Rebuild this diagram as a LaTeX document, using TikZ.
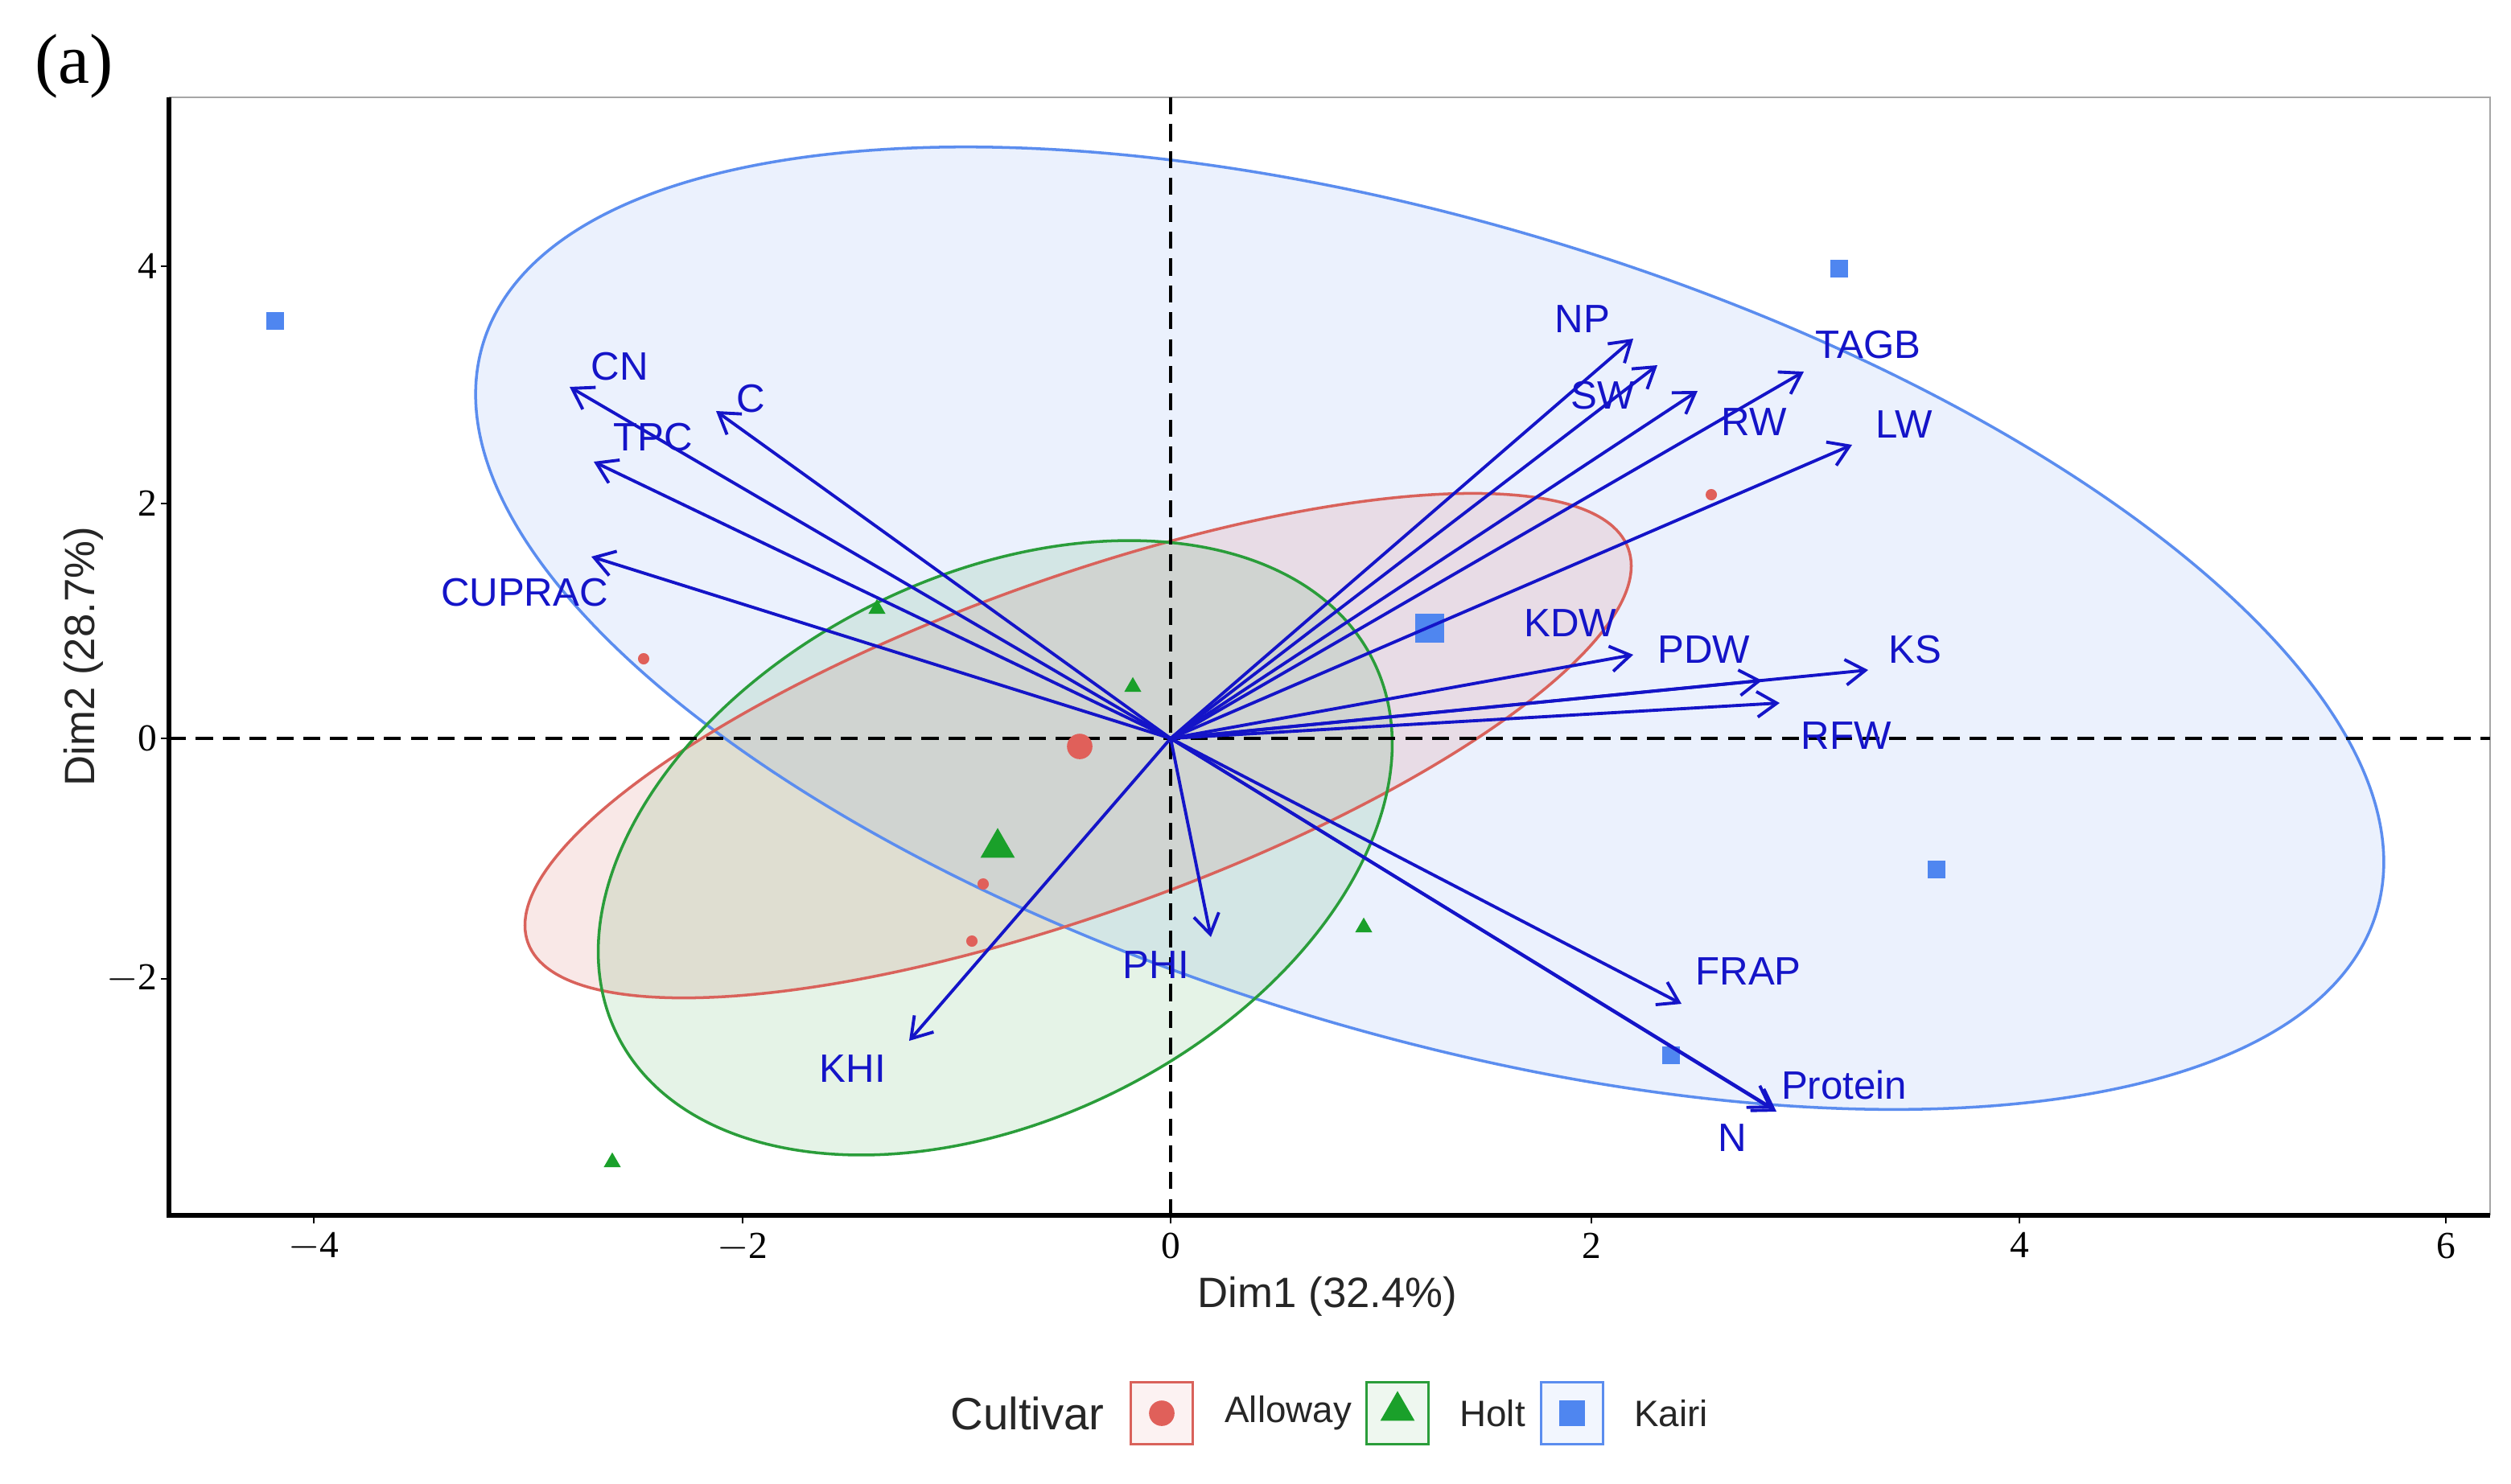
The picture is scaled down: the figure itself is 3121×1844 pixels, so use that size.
\documentclass[tikz,border=0pt]{standalone}
\usepackage{fontspec}
\setmainfont{Liberation Sans}
\newfontfamily\serifnum{Liberation Serif}
\usetikzlibrary{arrows.meta,shapes.geometric}
\definecolor{kblue}{HTML}{5B8DEF}
\definecolor{kred}{HTML}{D9625B}
\definecolor{kgreen}{HTML}{2A9D3A}
\definecolor{vblue}{HTML}{1414C8}
\definecolor{ptred}{HTML}{E0605A}
\definecolor{ptgreen}{HTML}{1AA02A}
\definecolor{ptblue}{HTML}{4F86F0}
\begin{document}
\begin{tikzpicture}[x=0.01cm,y=-0.01cm,
  vec/.style={vblue,line width=1.1pt,-{Straight Barb[length=7pt,width=9pt,line width=1.1pt]}},
  lab/.style={text=vblue,font=\fontsize{14}{16}\selectfont,inner sep=0pt},
  tick/.style={font=\serifnum\fontsize{13.5}{15}\selectfont,inner sep=0pt},
  sq/.style={fill=ptblue,draw=none,minimum size=6pt,inner sep=0pt,rectangle},
  cir/.style={fill=ptred,draw=none,circle,minimum size=4pt,inner sep=0pt},
  tri/.style={fill=ptgreen,draw=none,regular polygon,regular polygon sides=3,minimum size=7pt,inner sep=0pt},
  zero/.style={black,line width=1.2pt,dash pattern=on 6pt off 3.5pt},
  legbox/.style={minimum size=0.77cm,inner sep=0pt,line width=1pt}]
\useasboundingbox (0,0) rectangle (3121,1844);
\fill[white] (0,0) rectangle (3121,1844);
% panel
\draw[gray!70,line width=0.8pt] (210,121) -- (3095,121) -- (3095,1511);
% ellipses fills
\fill[kblue,fill opacity=0.12] (1777,781) ellipse[x radius=12.28cm,y radius=5.04cm,rotate=-16.7];
\fill[kred,fill opacity=0.14] (1340,927) ellipse[x radius=7.26cm,y radius=2.08cm,rotate=19.7];
\fill[kgreen,fill opacity=0.12] (1237,1054) ellipse[x radius=5.24cm,y radius=3.38cm,rotate=26.3];
\draw[kblue,line width=1pt] (1777,781) ellipse[x radius=12.28cm,y radius=5.04cm,rotate=-16.7];
\draw[kred,line width=1pt] (1340,927) ellipse[x radius=7.26cm,y radius=2.08cm,rotate=19.7];
\draw[kgreen,line width=1pt] (1237,1054) ellipse[x radius=5.24cm,y radius=3.38cm,rotate=26.3];
% zero lines
\draw[zero] (1455,121) -- (1455,1511);
\draw[zero] (210,918) -- (3095,918);
% axes
\draw[black,line width=1.5pt] (210,121) -- (210,1511) -- (3095,1511);
\foreach \yy/\t in {331/4,626/2,918/0,1217/{$-$2}} {
  \draw[line width=0.8pt] (200,\yy) -- (210,\yy);
  \node[tick,anchor=east] at (196,\yy) {\t};
}
\foreach \xx/\t in {390/{$-$4},923/{$-$2},1455/0,1978/2,2510/4,3040/6} {
  \draw[line width=0.8pt] (\xx,1511) -- (\xx,1521);
  \node[tick,anchor=north] at (\xx,1532) {\t};
}
\node[font=\fontsize{15}{17}\selectfont,text=black!85] (xl) at (1650,1612) {Dim1 (32.4\%)};
\node[font=\fontsize{15}{17}\selectfont,text=black!85,rotate=90] (yl) at (104,816) {Dim2 (28.7\%)};
\node[font=\serifnum\fontsize{25}{28}\selectfont] (pa) at (92,82) {(a)};
% individuals
\node[sq] (k1) at (342,399) {};
\node[sq] (k2) at (2286,334) {};
\node[sq] (k3) at (2407,1081) {};
\node[sq] (k4) at (2077,1312) {};
\node[sq,minimum size=10pt] (km) at (1777,781) {};
\node[cir] (a1) at (800,819) {};
\node[cir] (a2) at (2127,615) {};
\node[cir] (a3) at (1222,1099) {};
\node[cir] (a4) at (1208,1170) {};
\node[cir,minimum size=9pt] (am) at (1342,928) {};
\node[tri] (h1) at (1090,757) {};
\node[tri] (h2) at (1408,854) {};
\node[tri] (h3) at (761,1445) {};
\node[tri] (h4) at (1695,1153) {};
\node[tri,minimum size=14pt] (hm) at (1240,1054) {};
% variable vectors
\coordinate (O) at (1455,918);
\foreach \n/\px/\py in {CN/708/481, C/890/511, TPC/738/574, CUPRAC/735/692,
  NP/2030/421, SW/2060/454, RW/2110/486, TAGB/2242/462, LW/2302/553,
  KDW/2030/814, PDW/2190/846, KS/2322/833, RFW/2212/874,
  KHI/1130/1294, PHI/1505/1165, FRAP/2090/1248, N/2208/1382, Protein/2203/1378} {
  \coordinate (t\n) at (\px,\py);
  \draw[vec] (O) -- (t\n);
}
\node[lab] (lCN) at (770,456) {CN};
\node[lab] (lC) at (933,496) {C};
\node[lab] (lTPC) at (812,544) {TPC};
\node[lab] (lCUPRAC) at (652,737) {CUPRAC};
\node[lab] (lNP) at (1967,397) {NP};
\node[lab] (lSW) at (1992,492) {SW};
\node[lab] (lTAGB) at (2322,429) {TAGB};
\node[lab] (lRW) at (2180,525) {RW};
\node[lab] (lLW) at (2367,528) {LW};
\node[lab] (lKDW) at (1952,775) {KDW};
\node[lab] (lPDW) at (2118,808) {PDW};
\node[lab] (lKS) at (2380,808) {KS};
\node[lab] (lRFW) at (2295,915) {RFW};
\node[lab] (lKHI) at (1060,1329) {KHI};
\node[lab] (lPHI) at (1437,1200) {PHI};
\node[lab] (lFRAP) at (2173,1208) {FRAP};
\node[lab] (lProtein) at (2292,1349) {Protein};
\node[lab] (lN) at (2153,1415) {N};
% legend
\node[font=\fontsize{16}{18}\selectfont,text=black!85] (lg) at (1277,1757) {Cultivar};
\node[legbox,draw=kred,fill=kred!8] (bA) at (1444,1757) {};
\node[cir,minimum size=9pt] (mA) at (bA) {};
\node[font=\fontsize{13}{15}\selectfont,text=black!85,anchor=west] (tA) at (1510,1757) {Alloway};
\node[legbox,draw=kgreen,fill=kgreen!8] (bH) at (1737,1757) {};
\node[tri,minimum size=14pt] (mH) at (1737,1754) {};
\node[font=\fontsize{13}{15}\selectfont,text=black!85,anchor=west] (tH) at (1802,1757) {Holt};
\node[legbox,draw=kblue,fill=kblue!8] (bK) at (1954,1757) {};
\node[sq,minimum size=9pt] (mK) at (bK) {};
\node[font=\fontsize{13}{15}\selectfont,text=black!85,anchor=west] (tK) at (2019,1757) {Kairi};
\end{tikzpicture}
\end{document}
